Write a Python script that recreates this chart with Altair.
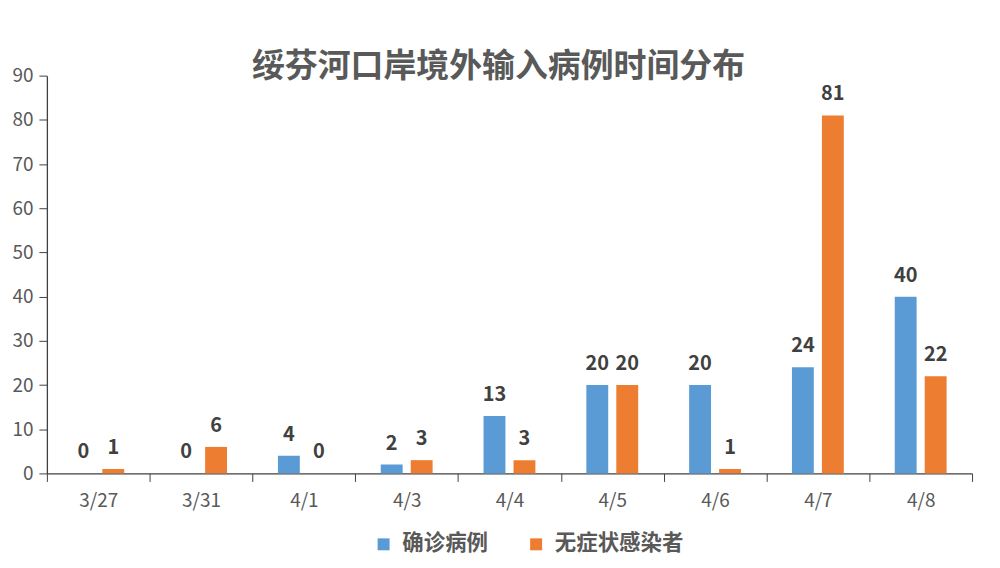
import altair as alt
import pandas as pd

dates = ["3/27", "3/31", "4/1", "4/3", "4/4", "4/5", "4/6", "4/7", "4/8"]
confirmed = [0, 0, 4, 2, 13, 20, 20, 24, 40]
asymptomatic = [1, 6, 0, 3, 3, 20, 1, 81, 22]
series = ["确诊病例", "无症状感染者"]
colors = ["#5B9BD5", "#ED7D31"]
y_ticks = [0, 10, 20, 30, 40, 50, 60, 70, 80, 90]

rows = []
for d, c, a in zip(dates, confirmed, asymptomatic):
    rows.append({"date": d, "series": series[0], "value": c})
    rows.append({"date": d, "series": series[1], "value": a})
df = pd.DataFrame(rows)

FONT = "Noto Sans CJK SC"
GREY = "#595959"

x = alt.X("date:N", sort=dates, title=None,
          scale=alt.Scale(paddingInner=0, paddingOuter=0),
          axis=alt.Axis(labelAngle=0, tickBand="extent", domainColor="#404040",
                        tickColor="#404040", tickSize=8, labelColor=GREY,
                        labelFontSize=19, labelFont=FONT, labelPadding=10,
                        domainWidth=1.3))
xo = alt.XOffset("series:N", sort=series,
                 scale=alt.Scale(paddingInner=0.27, paddingOuter=0.85))
y = alt.Y("value:Q", title=None,
          scale=alt.Scale(domain=[0, 90], nice=False),
          axis=alt.Axis(values=y_ticks, grid=False, domainColor="#404040",
                        tickColor="#404040", tickSize=8, labelColor=GREY,
                        labelFontSize=19, labelFont=FONT, labelPadding=6,
                        domainWidth=1.3))
color = alt.Color("series:N", sort=series,
                  scale=alt.Scale(domain=series, range=colors),
                  legend=alt.Legend(title=None, orient="none", direction="horizontal",
                                    legendX=327, legendY=459, symbolType="square",
                                    symbolSize=144, symbolStrokeWidth=0,
                                    labelFontSize=21.5, labelFontWeight="bold",
                                    labelColor=GREY, labelFont=FONT,
                                    labelOffset=8, columnPadding=37))

bars = alt.Chart(df).mark_bar().encode(x=x, xOffset=xo, y=y, color=color)
labels = alt.Chart(df).mark_text(baseline="bottom", dy=-11, fontSize=20,
                                 fontWeight="bold", color="#404040",
                                 font=FONT).encode(
    x=x, xOffset=xo, y=y, text="value:Q")

chart = alt.layer(bars, labels).properties(
    width=928, height=399,
    background="white",
    title=alt.TitleParams("绥芬河口岸境外输入病例时间分布", fontSize=33,
                          fontWeight="bold", color=GREY, font=FONT,
                          anchor="middle", dx=-11, offset=-17),
    autosize=alt.AutoSizeParams(type="none"),
    padding={"left": 39, "top": 67, "right": 20, "bottom": 86},
).configure_view(stroke="transparent", strokeWidth=0)

chart.save("out.html", embed_options={"renderer": "svg", "actions": False})
